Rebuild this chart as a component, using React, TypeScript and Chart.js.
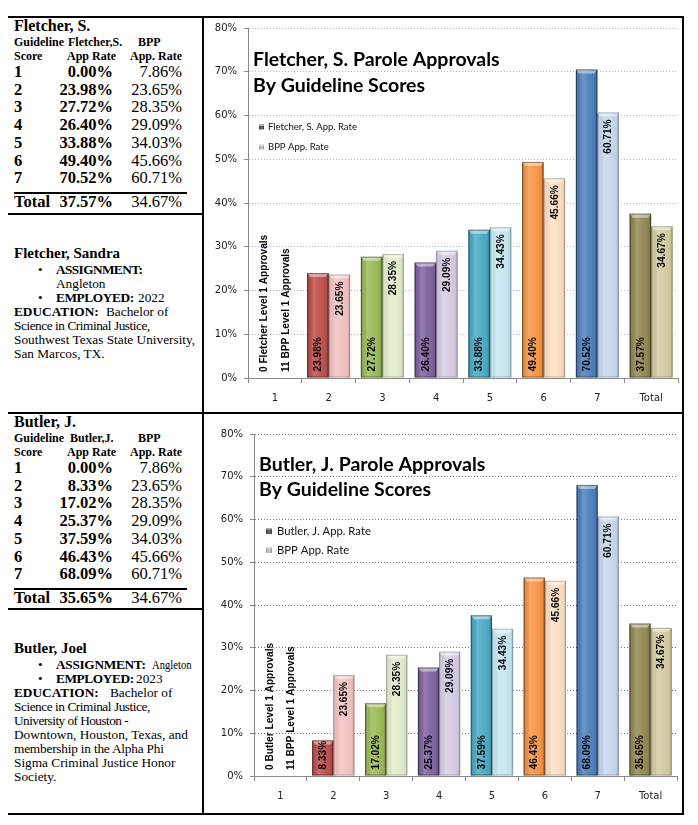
import React, { useEffect, useRef } from "react";
import { Chart, registerables } from "chart.js";

Chart.register(...registerables);

// ---------------- data ----------------
const CATEGORIES = ["1", "2", "3", "4", "5", "6", "7", "Total"];
const TABLE_SCORES = ["1", "2", "3", "4", "5", "6", "7"];

const FLETCHER_TABLE = [0.0, 23.98, 27.72, 26.4, 33.88, 49.4, 70.52];
const FLETCHER_TOTAL = 37.57;
const BUTLER_TABLE = [0.0, 8.33, 17.02, 25.37, 37.59, 46.43, 68.09];
const BUTLER_TOTAL = 35.65;
const BPP_TABLE = [7.86, 23.65, 28.35, 29.09, 34.03, 45.66, 60.71];
const BPP_TOTAL = 34.67;

// chart series (score 1 bars are not drawn; replaced by notes)
const FLETCHER_CHART = [null, 23.98, 27.72, 26.4, 33.88, 49.4, 70.52, 37.57];
const BUTLER_CHART = [null, 8.33, 17.02, 25.37, 37.59, 46.43, 68.09, 35.65];
const BPP_CHART = [null, 23.65, 28.35, 29.09, 34.43, 45.66, 60.71, 34.67];

const FLETCHER_NOTES = ["0 Fletcher Level 1 Approvals", "11 BPP Level 1 Approvals"];
const BUTLER_NOTES = ["0 Butler Level 1 Approvals", "11 BPP Level 1 Approvals"];

const Y_MIN = 0;
const Y_MAX = 80;
const Y_STEP = 10;

// ---------------- styles ----------------
const DARK_COLORS = ["#c0504d", "#c0504d", "#9bbb59", "#8064a2", "#4bacc6", "#f79646", "#4f81bd", "#948a54"];
const LIGHT_COLORS = ["#f2c4c2", "#f2c4c2", "#e2edcc", "#d6cde4", "#c6e8f2", "#fde0c4", "#c6d7ee", "#d4cca3"];
const SERIF = "'Liberation Serif', 'Times New Roman', serif";
const AXIS_COLOR = "#8a8a8a";

function vText(ctx: CanvasRenderingContext2D, text: string, x: number, y: number, align: CanvasTextAlign, sx: number) {
  ctx.save();
  ctx.translate(x, y);
  ctx.rotate(-Math.PI / 2);
  ctx.scale(sx, 1);
  ctx.textAlign = align;
  ctx.textBaseline = "middle";
  ctx.fillText(text, 0, 0);
  ctx.restore();
}

function drawBevel(ctx: CanvasRenderingContext2D, p: any, light: boolean) {
  const l = p.x - p.width / 2;
  const w = p.width;
  const t = p.y;
  const h = p.base - p.y;
  const k = light ? 0.6 : 1;
  ctx.save();
  const g = ctx.createLinearGradient(l, 0, l + w, 0);
  g.addColorStop(0, `rgba(0,0,0,${0.28 * k})`);
  g.addColorStop(0.1, `rgba(0,0,0,${0.05 * k})`);
  g.addColorStop(0.3, "rgba(255,255,255,0.16)");
  g.addColorStop(0.6, "rgba(255,255,255,0.04)");
  g.addColorStop(0.88, `rgba(0,0,0,${0.06 * k})`);
  g.addColorStop(1, `rgba(0,0,0,${0.3 * k})`);
  ctx.fillStyle = g;
  ctx.fillRect(l, t, w, h);
  const cap = Math.min(4, h);
  ctx.beginPath();
  ctx.moveTo(l, t);
  ctx.lineTo(l + w, t);
  ctx.lineTo(l + w - 3, t + cap);
  ctx.lineTo(l + 3, t + cap);
  ctx.closePath();
  ctx.fillStyle = "rgba(255,255,255,0.45)";
  ctx.fill();
  ctx.strokeStyle = light ? "rgba(0,0,0,0.22)" : "rgba(0,0,0,0.4)";
  ctx.lineWidth = 1;
  ctx.strokeRect(l + 0.5, t + 0.5, w - 1, h - 1);
  ctx.restore();
}

function makeDecor(cfg: any) {
  return {
    id: "decor",
    afterDatasetsDraw(chart: any) {
      const ctx: CanvasRenderingContext2D = chart.ctx;
      const yScale = chart.scales.y;
      const xScale = chart.scales.x;
      const zero = yScale.getPixelForValue(0);
      let barW = 0;
      chart.data.datasets.forEach((ds: any, di: number) => {
        const meta = chart.getDatasetMeta(di);
        meta.data.forEach((el: any, i: number) => {
          if (ds.data[i] == null) return;
          const p = el.getProps(["x", "y", "base", "width"], true);
          barW = p.width;
          drawBevel(ctx, p, di === 1);
        });
      });
      ctx.save();
      ctx.fillStyle = "#000";
      ctx.font = cfg.labelFont;
      chart.data.datasets.forEach((ds: any, di: number) => {
        const meta = chart.getDatasetMeta(di);
        meta.data.forEach((el: any, i: number) => {
          const v = ds.data[i];
          if (v == null) return;
          const p = el.getProps(["x", "y", "base"], true);
          const txt = v.toFixed(2) + "%";
          if (di === 0) vText(ctx, txt, p.x, p.base - 6, "left", cfg.labelScale);
          else vText(ctx, txt, p.x, p.y + 7, "right", cfg.labelScale);
        });
      });
      const c = xScale.getPixelForValue(0);
      cfg.notes.forEach((n: string, k: number) =>
        vText(ctx, n, c + (k === 0 ? -barW / 2 : barW / 2), zero - 6, "left", cfg.labelScale)
      );
      ctx.restore();
    },
    afterDraw(chart: any) {
      const ctx: CanvasRenderingContext2D = chart.ctx;
      const area = chart.chartArea;
      ctx.save();
      ctx.fillStyle = "#000";
      ctx.textAlign = "left";
      ctx.textBaseline = "middle";
      ctx.font = cfg.titleFont;
      cfg.titleLines.forEach((ln: string, k: number) => ctx.fillText(ln, area.left + cfg.titleDx, area.top + cfg.titleDy[k]));
      ctx.font = cfg.legendFont;
      const s = cfg.legendBox;
      chart.data.datasets.forEach((ds: any, k: number) => {
        const y = area.top + cfg.legendDy[k];
        const bx = area.left + cfg.legendBoxDx;
        const g = ctx.createLinearGradient(bx, 0, bx + s, 0);
        g.addColorStop(0, k === 0 ? "#3f3f3f" : "#9a9a9a");
        g.addColorStop(0.5, k === 0 ? "#6a6a6a" : "#cfcfcf");
        g.addColorStop(1, k === 0 ? "#3f3f3f" : "#9a9a9a");
        ctx.fillStyle = g;
        ctx.fillRect(bx, y - s / 2, s, s);
        ctx.fillStyle = "rgba(255,255,255,0.5)";
        ctx.fillRect(bx, y - s / 2, s, 1.5);
        ctx.fillStyle = "#111";
        ctx.fillText(ds.label, area.left + cfg.legendTextDx, y);
      });
      ctx.restore();
    },
  };
}

function buildConfig(cfg: any): any {
  return {
    type: "bar",
    data: {
      labels: CATEGORIES,
      datasets: [
        { label: cfg.seriesLabel, data: cfg.series, backgroundColor: DARK_COLORS, borderWidth: 0 },
        { label: "BPP App. Rate", data: BPP_CHART, backgroundColor: LIGHT_COLORS, borderWidth: 0 },
      ],
    },
    options: {
      responsive: false,
      animation: false,
      devicePixelRatio: 1,
      layout: { padding: cfg.padding },
      datasets: { bar: { barPercentage: 1, categoryPercentage: 0.8 } },
      plugins: { legend: { display: false }, title: { display: false }, tooltip: { enabled: false } },
      scales: {
        x: {
          ticks: { color: "#222", font: { family: "'DejaVu Sans', sans-serif", size: 10 }, padding: 9 },
          grid: { drawOnChartArea: false, drawTicks: true, tickLength: 5, color: AXIS_COLOR, tickColor: AXIS_COLOR, offset: true },
          border: { color: AXIS_COLOR, width: 1 },
          afterFit: (s: any) => {
            s.height = cfg.xHeight;
          },
        },
        y: {
          min: Y_MIN,
          max: Y_MAX,
          ticks: {
            stepSize: Y_STEP,
            callback: (v: any) => v + "%",
            color: "#222",
            font: { family: "'DejaVu Sans', sans-serif", size: 10 },
            padding: 7,
          },
          grid: {
            color: (c: any) => (c.tick && c.tick.value === 0 ? "rgba(0,0,0,0)" : cfg.gridColor),
            tickColor: AXIS_COLOR,
            tickLength: 4,
            tickBorderDash: [],
            lineWidth: 1,
          },
          border: { color: AXIS_COLOR, width: 1, dash: [1, 2] },
          afterFit: (s: any) => {
            s.width = cfg.yWidth;
            s.paddingTop = 0;
            s.paddingBottom = 0;
          },
        },
      },
    },
    plugins: [makeDecor(cfg)],
  };
}

// ---------------- components ----------------
const P = (v: number) => v - 8;

function BarChart({ cfg, left, top, width, height }: any) {
  const ref = useRef<HTMLCanvasElement>(null);
  useEffect(() => {
    const chart = new Chart(ref.current as HTMLCanvasElement, buildConfig(cfg));
    return () => chart.destroy();
  }, []);
  return (
    <canvas
      ref={ref}
      width={width}
      height={height}
      style={{ position: "absolute", left: P(left), top: P(top), width, height }}
    />
  );
}

function Line({ x, y, w, h }: any) {
  return <div style={{ position: "absolute", left: P(x), top: P(y), width: w, height: h, background: "#000" }} />;
}

function Txt({ x, y, size = 13.3, lh = 14, bold = false, right = false, ls = 0, sx = 1, children }: any) {
  const style: any = {
    position: "absolute",
    left: P(x),
    top: P(y - lh / 2),
    fontSize: size,
    lineHeight: lh + "px",
    fontWeight: bold ? "bold" : "normal",
    whiteSpace: "nowrap",
    fontFamily: SERIF,
    color: "#000",
    letterSpacing: ls ? ls + "px" : "normal",
  };
  if (right) style.transform = "translateX(-100%)";
  else if (sx !== 1) {
    style.transform = `scaleX(${sx})`;
    style.transformOrigin = "left center";
  }
  return <div style={style}>{children}</div>;
}

const pct = (v: number) => v.toFixed(2) + "%";

function StatsTable({ top, name, who, whoX, rates, total }: any) {
  const rowY = (i: number) => top + 56 + i * 17.7;
  const VS = 16.5;
  return (
    <>
      <Txt x={14} y={top + 10} size={16} lh={18} bold>{name}</Txt>
      <Txt x={14} y={top + 26} size={12} bold>Guideline</Txt>
      <Txt x={whoX} y={top + 26} size={12} bold>{who}</Txt>
      <Txt x={138} y={top + 26} size={12} bold>BPP</Txt>
      <Txt x={14} y={top + 40} size={12} bold>Score</Txt>
      <Txt x={67} y={top + 40} size={12} bold>App Rate</Txt>
      <Txt x={182} y={top + 40} size={12} bold right>App. Rate</Txt>
      {TABLE_SCORES.map((s, i) => (
        <React.Fragment key={s}>
          <Txt x={14} y={rowY(i)} size={VS} lh={18} bold>{s}</Txt>
          <Txt x={113} y={rowY(i)} size={VS} lh={18} bold right>{pct(rates[i])}</Txt>
          <Txt x={182} y={rowY(i)} size={VS} lh={18} right>{pct(BPP_TABLE[i])}</Txt>
        </React.Fragment>
      ))}
      <Line x={14} y={top + 176} w={173} h={2} />
      <Txt x={14} y={top + 186} size={VS} lh={18} bold>Total</Txt>
      <Txt x={113} y={top + 186} size={VS} lh={18} bold right>{pct(total)}</Txt>
      <Txt x={182} y={top + 186} size={VS} lh={18} right>{pct(BPP_TOTAL)}</Txt>
    </>
  );
}

const FLETCHER_CFG = {
  seriesLabel: "Fletcher, S. App. Rate",
  series: FLETCHER_CHART,
  notes: FLETCHER_NOTES,
  gridColor: "#a6b9d5",
  padding: { top: 10, right: 4, left: 0, bottom: 0 },
  yWidth: 44,
  xHeight: 34,
  labelFont: "bold 11.5px 'Liberation Sans', Arial, sans-serif",
  labelScale: 0.88,
  titleFont: "bold 19.5px Lato, 'Open Sans', sans-serif",
  titleLines: ["Fletcher, S. Parole Approvals", "By Guideline Scores"],
  titleDx: 5,
  titleDy: [32, 58],
  legendFont: "9.5px Lato, sans-serif",
  legendBox: 5,
  legendBoxDx: 11,
  legendTextDx: 20,
  legendDy: [99, 119],
};

const BUTLER_CFG = {
  seriesLabel: "Butler, J. App. Rate",
  series: BUTLER_CHART,
  notes: BUTLER_NOTES,
  gridColor: "#7a7a7a",
  padding: { top: 20, right: 5, left: 0, bottom: 0 },
  yWidth: 50,
  xHeight: 37,
  labelFont: "bold 11.5px 'Liberation Sans', Arial, sans-serif",
  labelScale: 0.88,
  titleFont: "bold 19.5px Lato, 'Open Sans', sans-serif",
  titleLines: ["Butler, J. Parole Approvals", "By Guideline Scores"],
  titleDx: 5,
  titleDy: [31, 56],
  legendFont: "11.3px Lato, sans-serif",
  legendBox: 6,
  legendBoxDx: 12,
  legendTextDx: 23,
  legendDy: [97, 116],
};

export default function App() {
  return (
    <div style={{ position: "relative", width: 682, height: 810, fontFamily: SERIF }}>
      {/* grid lines of the page table */}
      <Line x={6} y={16} w={678} h={2} />
      <Line x={6} y={412} w={678} h={2} />
      <Line x={6} y={813} w={678} h={2} />
      <Line x={6} y={16} w={2} h={799} />
      <Line x={682} y={16} w={2} h={799} />
      <Line x={202} y={16} w={2} h={799} />
      <Line x={6} y={213} w={198} h={2} />
      <Line x={6} y={608} w={198} h={2} />

      {/* Fletcher */}
      <StatsTable top={16} name="Fletcher, S." who="Fletcher,S." whoX={68} rates={FLETCHER_TABLE} total={FLETCHER_TOTAL} />
      <Txt x={14} y={253} size={15} lh={18} bold>Fletcher, Sandra</Txt>
      <Txt x={38} y={270}>•</Txt>
      <Txt x={56} y={270} bold ls={-0.6}>ASSIGNMENT:</Txt>
      <Txt x={56} y={284}>Angleton</Txt>
      <Txt x={38} y={298}>•</Txt>
      <Txt x={56} y={298} bold ls={-0.4}>EMPLOYED:</Txt>
      <Txt x={138} y={298}>2022</Txt>
      <Txt x={14} y={312} bold>EDUCATION:</Txt>
      <Txt x={106} y={312}>Bachelor of</Txt>
      <Txt x={14} y={326} ls={-0.45}>Science in Criminal Justice,</Txt>
      <Txt x={14} y={340}>Southwest Texas State University,</Txt>
      <Txt x={14} y={354}>San Marcos, TX.</Txt>
      <BarChart cfg={FLETCHER_CFG} left={204} top={18} width={478} height={394} />

      {/* Butler */}
      <StatsTable top={412} name="Butler, J." who="Butler,J." whoX={70} rates={BUTLER_TABLE} total={BUTLER_TOTAL} />
      <Txt x={14} y={648} size={15} lh={18} bold>Butler, Joel</Txt>
      <Txt x={38} y={665}>•</Txt>
      <Txt x={56} y={665} bold ls={-0.3}>ASSIGNMENT:</Txt>
      <Txt x={152} y={665} sx={0.8}>Angleton</Txt>
      <Txt x={38} y={679}>•</Txt>
      <Txt x={56} y={679} bold ls={-0.4}>EMPLOYED:</Txt>
      <Txt x={136} y={679}>2023</Txt>
      <Txt x={14} y={693} bold>EDUCATION:</Txt>
      <Txt x={110} y={693}>Bachelor of</Txt>
      <Txt x={14} y={707} ls={-0.45}>Science in Criminal Justice,</Txt>
      <Txt x={14} y={721} ls={-0.55}>University of Houston -</Txt>
      <Txt x={14} y={735}>Downtown, Houston, Texas, and</Txt>
      <Txt x={14} y={749} ls={-0.2}>membership in the Alpha Phi</Txt>
      <Txt x={14} y={763}>Sigma Criminal Justice Honor</Txt>
      <Txt x={14} y={777}>Society.</Txt>
      <BarChart cfg={BUTLER_CFG} left={204} top={414} width={478} height={399} />
    </div>
  );
}
